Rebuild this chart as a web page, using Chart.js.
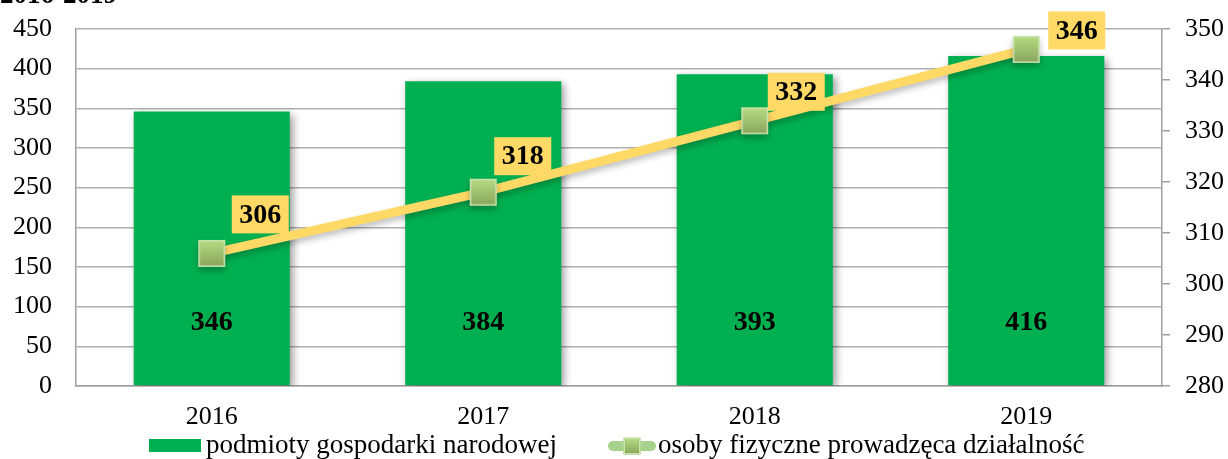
<!DOCTYPE html>
<html><head><meta charset="utf-8">
<script src="https://cdn.jsdelivr.net/npm/chart.js@4/dist/chart.umd.min.js"></script>
<style>
html,body{margin:0;padding:0;background:#fff;overflow:hidden}
#wrap{position:relative;width:1228px;height:459px}
#title{position:absolute;left:0;top:-21px;font:bold 27px "Liberation Serif","Times New Roman",serif;color:#000;white-space:nowrap}
</style></head>
<body><div id="wrap"><canvas id="c" width="1228" height="459"></canvas><div id="title">2016-2019</div></div>
<script>
const categories = ['2016','2017','2018','2019'];
const podmioty = [346, 384, 393, 416];
const osoby = [306, 318, 332, 346];
const leftTicks = [0,50,100,150,200,250,300,350,400,450];
const rightTicks = [280,290,300,310,320,330,340,350];
const seriesNames = ['podmioty gospodarki narodowej', 'osoby fizyczne prowadzęca działalność'];

const FONT = '"Liberation Serif","Times New Roman",serif';
const labelNudge = [[20,-58],[11,-55],[13,-48],[22,-38]];

function squareImg(size, legend){
  const c = document.createElement('canvas');
  const w = legend ? 50 : size+2, h = legend ? 24 : size+2;
  c.width = w; c.height = h;
  const x = c.getContext('2d');
  if (legend){
    x.strokeStyle = '#A9D18E'; x.lineWidth = 10; x.lineCap='round';
    x.beginPath(); x.moveTo(6,h/2); x.lineTo(w-6,h/2); x.stroke();
  }
  const sx = (w-size)/2, sy=(h-size)/2;
  const g = x.createLinearGradient(0,sy,0,sy+size);
  g.addColorStop(0,'#B7DD83'); g.addColorStop(1,'#88A45C');
  x.fillStyle = g; x.fillRect(sx,sy,size,size);
  x.strokeStyle='#CBE3AE'; x.lineWidth=1.5; x.strokeRect(sx+0.75,sy+0.75,size-1.5,size-1.5);
  return c;
}
const ptImg = squareImg(27,false);
const legLineImg = squareImg(17,true);

const labelsPlugin = {
  id:'labelsPlugin',
  beforeDatasetDraw(chart, args){
    const ctx = chart.ctx;
    ctx.save();
    if (args.index===0){
      ctx.shadowColor='rgba(0,0,0,0.4)'; ctx.shadowBlur=8; ctx.shadowOffsetX=3; ctx.shadowOffsetY=3;
    } else {
      ctx.shadowColor='rgba(0,0,0,0.25)'; ctx.shadowBlur=6; ctx.shadowOffsetX=0; ctx.shadowOffsetY=4;
    }
  },
  afterDatasetDraw(chart,args){ chart.ctx.restore(); },
  afterDatasetsDraw(chart){
    const ctx = chart.ctx;
    ctx.save();
    ctx.font = 'bold 28px '+FONT;
    ctx.textAlign='center'; ctx.textBaseline='middle'; ctx.fillStyle='#000';
    const m0 = chart.getDatasetMeta(0);
    m0.data.forEach((b,i)=>{
      ctx.fillText(String(podmioty[i]), b.x, b.base-62);
    });
    const m1 = chart.getDatasetMeta(1);
    m1.data.forEach((p,i)=>{
      const txt = String(osoby[i]);
      const bw = 57, bh = 38;
      const bx = p.x + labelNudge[i][0];
      const by = p.y + labelNudge[i][1];
      ctx.fillStyle='#FFD966'; ctx.fillRect(bx,by,bw,bh);
      ctx.fillStyle='#000'; ctx.fillText(txt, bx+bw/2, by+bh/2+1);
    });
    ctx.restore();
  },
  afterDraw(chart){
    const ctx = chart.ctx;
    ctx.save();
    ctx.font = '27px '+FONT;
    ctx.fillStyle='#000'; ctx.textAlign='left'; ctx.textBaseline='middle';
    const cy = 446;
    ctx.fillStyle='#00B050'; ctx.fillRect(149,439,52,13);
    ctx.fillStyle='#000'; ctx.fillText(seriesNames[0], 206, cy);
    ctx.drawImage(legLineImg, 607, cy-12);
    ctx.fillText(seriesNames[1], 658, cy);
    ctx.restore();
  }
};

function noPad(s){ s.paddingTop = 0; s.paddingBottom = 0; s.paddingLeft = 0; s.paddingRight = 0; }

new Chart(document.getElementById('c'), {
  data:{
    labels: categories,
    datasets:[
      {type:'bar', label:seriesNames[0], data: podmioty, backgroundColor:'#00B050',
       categoryPercentage:1, barPercentage:0.575, yAxisID:'y', order:2},
      {type:'line', label:seriesNames[1], data: osoby, borderColor:'#FFD966', borderWidth:9,
       pointStyle: ptImg, pointRadius:14, pointHoverRadius:14, yAxisID:'y1', order:1, tension:0, clip:false}
    ]
  },
  options:{
    responsive:false, animation:false, devicePixelRatio:1,
    layout:{autoPadding:false, padding:{top:29,left:0,right:0,bottom:27}},
    plugins:{ tooltip:{enabled:false}, legend:{display:false} },
    scales:{
      x:{
        grid:{display:false, drawTicks:false},
        border:{color:'#A0A0A0', width:1.5},
        ticks:{color:'#000', font:{family:FONT,size:26}, padding:16},
        afterFit(s){ s.height = 46; noPad(s); }
      },
      y:{
        position:'left', min:0, max:450,
        afterBuildTicks(s){ s.ticks = leftTicks.map(v=>({value:v})); },
        grid:{color:'#AFAFAF', lineWidth:1.5, drawTicks:false},
        border:{color:'#A0A0A0', width:1.5},
        ticks:{color:'#000', font:{family:FONT,size:26}, padding:24},
        afterFit(s){ s.width = 76; noPad(s); }
      },
      y1:{
        position:'right', min:280, max:350,
        afterBuildTicks(s){ s.ticks = rightTicks.map(v=>({value:v})); },
        grid:{drawOnChartArea:false, color:'#A0A0A0', lineWidth:1.5, tickLength:8},
        border:{color:'#A0A0A0', width:1.5},
        ticks:{color:'#000', font:{family:FONT,size:26}, padding:15},
        afterFit(s){ s.width = 66; noPad(s); }
      }
    }
  },
  plugins:[labelsPlugin]
});
</script>
</body></html>
